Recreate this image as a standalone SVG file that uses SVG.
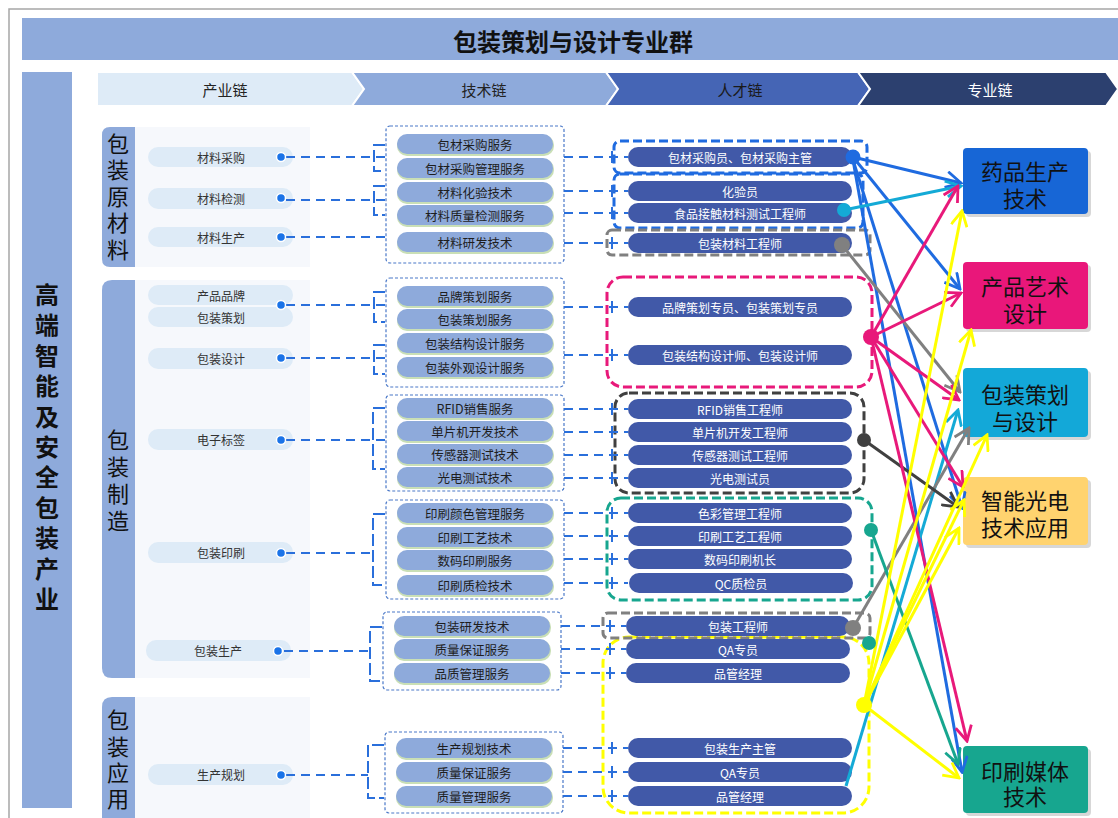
<svg xmlns="http://www.w3.org/2000/svg" width="1118" height="818" viewBox="0 0 1118 818">
<style>
text{font-family:"Noto Sans CJK SC","Liberation Sans",sans-serif;text-anchor:middle;dominant-baseline:central}
.ind{fill:#deebf7}
.indt{font-size:12px;fill:#333}
.dot{fill:#1a73e8;stroke:#fff;stroke-width:1.5}
.techs{fill:#c9dfb6}
.tech{fill:#8eaadb}
.techt{font-size:12.5px;fill:#1e1e1e}
.tal{fill:#4159a8}
.talt{font-size:12px;fill:#fff}
.dl{stroke:#2a6fdb;stroke-width:2;stroke-dasharray:9 6;fill:none}
.br{stroke:#2a6fdb;stroke-width:2;stroke-dasharray:12 4;fill:none}
.tb{fill:none;stroke:#4a78c8;stroke-width:1.2;stroke-dasharray:3 2}
.tbox{fill:none;stroke-width:3;stroke-dasharray:9 4}
.arr{fill:none;stroke-width:3}
.lbl{fill:#8eaadb}
.lblt{font-size:22px;fill:#111}
.pan{fill:#f6f8fc}
.tgt{font-size:22px;fill:#111}
.shd{fill:#a6a6a6;opacity:.45}
</style>
<defs>
<marker id="mBlue" viewBox="0 0 18 18" refX="16" refY="9" markerWidth="18" markerHeight="18" orient="auto" markerUnits="userSpaceOnUse"><path d="M1,1 L16,9 L1,17" fill="none" stroke="#1f6be0" stroke-width="2.8"/></marker>
<marker id="mPink" viewBox="0 0 18 18" refX="16" refY="9" markerWidth="18" markerHeight="18" orient="auto" markerUnits="userSpaceOnUse"><path d="M1,1 L16,9 L1,17" fill="none" stroke="#e8197a" stroke-width="2.8"/></marker>
<marker id="mYel" viewBox="0 0 18 18" refX="16" refY="9" markerWidth="18" markerHeight="18" orient="auto" markerUnits="userSpaceOnUse"><path d="M1,1 L16,9 L1,17" fill="none" stroke="#ffff00" stroke-width="2.8"/></marker>
<marker id="mGray" viewBox="0 0 18 18" refX="16" refY="9" markerWidth="18" markerHeight="18" orient="auto" markerUnits="userSpaceOnUse"><path d="M1,1 L16,9 L1,17" fill="none" stroke="#808080" stroke-width="2.8"/></marker>
<marker id="mDark" viewBox="0 0 18 18" refX="16" refY="9" markerWidth="18" markerHeight="18" orient="auto" markerUnits="userSpaceOnUse"><path d="M1,1 L16,9 L1,17" fill="none" stroke="#404040" stroke-width="2.8"/></marker>
<marker id="mCyan" viewBox="0 0 18 18" refX="16" refY="9" markerWidth="18" markerHeight="18" orient="auto" markerUnits="userSpaceOnUse"><path d="M1,1 L16,9 L1,17" fill="none" stroke="#14aad6" stroke-width="2.8"/></marker>
<marker id="mTeal" viewBox="0 0 18 18" refX="16" refY="9" markerWidth="18" markerHeight="18" orient="auto" markerUnits="userSpaceOnUse"><path d="M1,1 L16,9 L1,17" fill="none" stroke="#17a68f" stroke-width="2.8"/></marker>
</defs>
<rect width="1118" height="818" fill="#fff"/>
<path d="M9,818 V9 H1118" fill="none" stroke="#a6a6a6" stroke-width="1.5"/>

<g id="title">
<rect x="22" y="18" width="1096" height="42" fill="#8eaadb"/>
<text x="573" y="40" style="font-size:24px;font-weight:bold;fill:#111">包装策划与设计专业群</text>
</g>

<g id="industry-bar">
<rect x="22" y="72" width="50" height="736" fill="#8eaadb"/>
<text style="font-size:24px;font-weight:bold;fill:#111"><tspan x="47" y="293">高</tspan><tspan x="47" y="323">端</tspan><tspan x="47" y="354">智</tspan><tspan x="47" y="384">能</tspan><tspan x="47" y="415">及</tspan><tspan x="47" y="445">安</tspan><tspan x="47" y="475">全</tspan><tspan x="47" y="506">包</tspan><tspan x="47" y="536">装</tspan><tspan x="47" y="567">产</tspan><tspan x="47" y="597">业</tspan></text>
</g>

<g id="header">
<path d="M97,72 H352 L364,89 L352,106 H97 Z" fill="#deebf7" stroke="#fff" stroke-width="2"/>
<path d="M352,72 H606 L618,89 L606,106 H352 L364,89 Z" fill="#8eaadb" stroke="#fff" stroke-width="2"/>
<path d="M606,72 H858 L870,89 L858,106 H606 L618,89 Z" fill="#4565b5" stroke="#fff" stroke-width="2"/>
<path d="M858,72 H1106 L1118,89 L1106,106 H858 L870,89 Z" fill="#2c406f" stroke="#fff" stroke-width="2"/>
<text x="225" y="89" style="font-size:15px;fill:#222">产业链</text>
<text x="484" y="89" style="font-size:15px;fill:#222">技术链</text>
<text x="740" y="89" style="font-size:15px;fill:#1a1a1a">人才链</text>
<text x="990" y="89" style="font-size:15px;fill:#fff">专业链</text>
</g>

<g id="group-raw">
<rect class="pan" x="135" y="127" width="175" height="140"/>
<path class="lbl" d="M110,127 H135 V267 H110 Q102,267 102,259 V135 Q102,127 110,127 Z"/>
<text class="lblt"><tspan x="118" y="142">包</tspan><tspan x="118" y="168">装</tspan><tspan x="118" y="195">原</tspan><tspan x="118" y="221">材</tspan><tspan x="118" y="248">料</tspan></text>
</g>
<g id="group-mfg">
<rect class="pan" x="135" y="280" width="175" height="398"/>
<path class="lbl" d="M112,280 H135 V678 H112 Q102,678 102,668 V290 Q102,280 112,280 Z"/>
<text class="lblt"><tspan x="118" y="438">包</tspan><tspan x="118" y="465">装</tspan><tspan x="118" y="492">制</tspan><tspan x="118" y="519">造</tspan></text>
</g>
<g id="group-app">
<rect class="pan" x="135" y="697" width="175" height="121"/>
<path class="lbl" d="M112,697 H135 V818 H102 V707 Q102,697 112,697 Z"/>
<text class="lblt"><tspan x="118" y="718">包</tspan><tspan x="118" y="745">装</tspan><tspan x="118" y="771">应</tspan><tspan x="118" y="797">用</tspan></text>
</g>

<g id="industry-nodes">
<g id="ind-cgcg"><rect class="ind" x="148" y="147" width="145" height="20" rx="10"/><text class="indt" x="221" y="157">材料采购</text></g>
<g id="ind-cljc"><rect class="ind" x="148" y="188" width="145" height="21" rx="10"/><text class="indt" x="221" y="198">材料检测</text></g>
<g id="ind-clsc"><rect class="ind" x="148" y="227" width="145" height="20" rx="10"/><text class="indt" x="221" y="237">材料生产</text></g>
<g id="ind-cppp"><rect class="ind" x="148" y="285" width="145" height="20" rx="10"/><text class="indt" x="221" y="295">产品品牌</text></g>
<g id="ind-bzch"><rect class="ind" x="148" y="307" width="145" height="20" rx="10"/><text class="indt" x="221" y="317">包装策划</text></g>
<g id="ind-bzsj"><rect class="ind" x="148" y="348" width="145" height="21" rx="10"/><text class="indt" x="221" y="358">包装设计</text></g>
<g id="ind-dzbq"><rect class="ind" x="148" y="429" width="145" height="21" rx="10"/><text class="indt" x="221" y="439">电子标签</text></g>
<g id="ind-bzys"><rect class="ind" x="148" y="542" width="145" height="21" rx="10"/><text class="indt" x="221" y="552">包装印刷</text></g>
<g id="ind-bzsc"><rect class="ind" x="146" y="640" width="145" height="21" rx="10"/><text class="indt" x="218" y="650">包装生产</text></g>
<g id="ind-scgh"><rect class="ind" x="148" y="764" width="145" height="21" rx="10"/><text class="indt" x="221" y="774">生产规划</text></g>
</g>

<g id="tech-nodes">
<g id="tech-g1">
<rect class="tb" x="386" y="126" width="178" height="137" rx="4"/>
<rect class="techs" x="397" y="135" width="157" height="21" rx="10"/><rect class="tech" x="397" y="134" width="156" height="20" rx="10"/><text class="techt" x="475" y="144">包材采购服务</text>
<rect class="techs" x="397" y="159" width="157" height="21" rx="10"/><rect class="tech" x="397" y="158" width="156" height="20" rx="10"/><text class="techt" x="475" y="168">包材采购管理服务</text>
<rect class="techs" x="397" y="183" width="157" height="21" rx="10"/><rect class="tech" x="397" y="182" width="156" height="20" rx="10"/><text class="techt" x="475" y="192">材料化验技术</text>
<rect class="techs" x="397" y="206" width="157" height="21" rx="10"/><rect class="tech" x="397" y="205" width="156" height="20" rx="10"/><text class="techt" x="475" y="215">材料质量检测服务</text>
<rect class="techs" x="397" y="233" width="157" height="21" rx="10"/><rect class="tech" x="397" y="232" width="156" height="20" rx="10"/><text class="techt" x="475" y="242">材料研发技术</text>
</g>
<g id="tech-g2">
<rect class="tb" x="386" y="278" width="178" height="109" rx="4"/>
<rect class="techs" x="397" y="287" width="157" height="21" rx="10"/><rect class="tech" x="397" y="286" width="156" height="20" rx="10"/><text class="techt" x="475" y="296">品牌策划服务</text>
<rect class="techs" x="397" y="310" width="157" height="21" rx="10"/><rect class="tech" x="397" y="309" width="156" height="20" rx="10"/><text class="techt" x="475" y="319">包装策划服务</text>
<rect class="techs" x="397" y="334" width="157" height="21" rx="10"/><rect class="tech" x="397" y="333" width="156" height="20" rx="10"/><text class="techt" x="475" y="343">包装结构设计服务</text>
<rect class="techs" x="397" y="358" width="157" height="21" rx="10"/><rect class="tech" x="397" y="357" width="156" height="20" rx="10"/><text class="techt" x="475" y="367">包装外观设计服务</text>
</g>
<g id="tech-g3">
<rect class="tb" x="386" y="395" width="178" height="96" rx="4"/>
<rect class="techs" x="397" y="399" width="157" height="21" rx="10"/><rect class="tech" x="397" y="398" width="156" height="20" rx="10"/><text class="techt" x="475" y="408">RFID销售服务</text>
<rect class="techs" x="397" y="422" width="157" height="21" rx="10"/><rect class="tech" x="397" y="421" width="156" height="20" rx="10"/><text class="techt" x="475" y="431">单片机开发技术</text>
<rect class="techs" x="397" y="445" width="157" height="21" rx="10"/><rect class="tech" x="397" y="444" width="156" height="20" rx="10"/><text class="techt" x="475" y="454">传感器测试技术</text>
<rect class="techs" x="397" y="468" width="157" height="21" rx="10"/><rect class="tech" x="397" y="467" width="156" height="20" rx="10"/><text class="techt" x="475" y="477">光电测试技术</text>
</g>
<g id="tech-g4">
<rect class="tb" x="386" y="500" width="178" height="99" rx="4"/>
<rect class="techs" x="397" y="504" width="157" height="21" rx="10"/><rect class="tech" x="397" y="503" width="156" height="20" rx="10"/><text class="techt" x="475" y="513">印刷颜色管理服务</text>
<rect class="techs" x="397" y="528" width="157" height="21" rx="10"/><rect class="tech" x="397" y="527" width="156" height="20" rx="10"/><text class="techt" x="475" y="537">印刷工艺技术</text>
<rect class="techs" x="397" y="551" width="157" height="21" rx="10"/><rect class="tech" x="397" y="550" width="156" height="20" rx="10"/><text class="techt" x="475" y="560">数码印刷服务</text>
<rect class="techs" x="397" y="576" width="157" height="21" rx="10"/><rect class="tech" x="397" y="575" width="156" height="20" rx="10"/><text class="techt" x="475" y="585">印刷质检技术</text>
</g>
<g id="tech-g5">
<rect class="tb" x="383" y="612" width="178" height="78" rx="4"/>
<rect class="techs" x="394" y="617" width="157" height="21" rx="10"/><rect class="tech" x="394" y="616" width="156" height="20" rx="10"/><text class="techt" x="472" y="626">包装研发技术</text>
<rect class="techs" x="394" y="640" width="157" height="21" rx="10"/><rect class="tech" x="394" y="639" width="156" height="20" rx="10"/><text class="techt" x="472" y="649">质量保证服务</text>
<rect class="techs" x="394" y="664" width="157" height="21" rx="10"/><rect class="tech" x="394" y="663" width="156" height="20" rx="10"/><text class="techt" x="472" y="673">品质管理服务</text>
</g>
<g id="tech-g6">
<rect class="tb" x="385" y="732" width="178" height="81" rx="4"/>
<rect class="techs" x="396" y="739" width="157" height="21" rx="10"/><rect class="tech" x="396" y="738" width="156" height="20" rx="10"/><text class="techt" x="474" y="748">生产规划技术</text>
<rect class="techs" x="396" y="763" width="157" height="21" rx="10"/><rect class="tech" x="396" y="762" width="156" height="20" rx="10"/><text class="techt" x="474" y="772">质量保证服务</text>
<rect class="techs" x="396" y="787" width="157" height="21" rx="10"/><rect class="tech" x="396" y="786" width="156" height="20" rx="10"/><text class="techt" x="474" y="796">质量管理服务</text>
</g>
</g>

<g id="talent-boxes">
<rect class="tbox" x="614" y="141" width="253" height="32" rx="6" stroke="#1f6be0"/>
<rect class="tbox" x="614" y="174" width="249" height="54" rx="6" stroke="#1f6be0"/>
<rect class="tbox" x="607" y="230" width="263" height="25" rx="5" stroke="#808080"/>
<rect class="tbox" x="607" y="277" width="265" height="110" rx="16" stroke="#e8197a"/>
<rect class="tbox" x="615" y="393" width="249" height="100" rx="14" stroke="#404040"/>
<rect class="tbox" x="607" y="498" width="265" height="102" rx="14" stroke="#17a68f"/>
<rect class="tbox" x="603" y="637" width="266" height="176" rx="26" stroke="#ffff00"/>
<rect class="tbox" x="603" y="613" width="267" height="25" rx="5" stroke="#808080"/>
</g>

<g id="talent-nodes">
<g id="tal-1"><rect class="tal" x="628" y="147" width="224" height="20" rx="10"/><text class="talt" x="740" y="157">包材采购员、包材采购主管</text></g>
<g id="tal-2"><rect class="tal" x="628" y="181" width="224" height="20" rx="10"/><text class="talt" x="740" y="191">化验员</text></g>
<g id="tal-3"><rect class="tal" x="628" y="203" width="224" height="20" rx="10"/><text class="talt" x="740" y="213">食品接触材料测试工程师</text></g>
<g id="tal-4"><rect class="tal" x="628" y="233" width="224" height="20" rx="10"/><text class="talt" x="740" y="243">包装材料工程师</text></g>
<g id="tal-5"><rect class="tal" x="628" y="297" width="224" height="20" rx="10"/><text class="talt" x="740" y="307">品牌策划专员、包装策划专员</text></g>
<g id="tal-6"><rect class="tal" x="628" y="345" width="224" height="20" rx="10"/><text class="talt" x="740" y="355">包装结构设计师、包装设计师</text></g>
<g id="tal-7"><rect class="tal" x="628" y="399" width="224" height="20" rx="10"/><text class="talt" x="740" y="409">RFID销售工程师</text></g>
<g id="tal-8"><rect class="tal" x="628" y="422" width="224" height="20" rx="10"/><text class="talt" x="740" y="432">单片机开发工程师</text></g>
<g id="tal-9"><rect class="tal" x="628" y="445" width="224" height="20" rx="10"/><text class="talt" x="740" y="455">传感器测试工程师</text></g>
<g id="tal-10"><rect class="tal" x="628" y="468" width="224" height="20" rx="10"/><text class="talt" x="740" y="478">光电测试员</text></g>
<g id="tal-11"><rect class="tal" x="628" y="503" width="224" height="20" rx="10"/><text class="talt" x="740" y="513">色彩管理工程师</text></g>
<g id="tal-12"><rect class="tal" x="628" y="526" width="224" height="20" rx="10"/><text class="talt" x="740" y="536">印刷工艺工程师</text></g>
<g id="tal-13"><rect class="tal" x="628" y="549" width="224" height="20" rx="10"/><text class="talt" x="740" y="559">数码印刷机长</text></g>
<g id="tal-14"><rect class="tal" x="629" y="573" width="224" height="20" rx="10"/><text class="talt" x="741" y="583">QC质检员</text></g>
<g id="tal-15"><rect class="tal" x="626" y="616" width="224" height="20" rx="10"/><text class="talt" x="738" y="626">包装工程师</text></g>
<g id="tal-16"><rect class="tal" x="626" y="639" width="224" height="20" rx="10"/><text class="talt" x="738" y="649">QA专员</text></g>
<g id="tal-17"><rect class="tal" x="626" y="663" width="224" height="20" rx="10"/><text class="talt" x="738" y="673">品管经理</text></g>
<g id="tal-18"><rect class="tal" x="628" y="738" width="224" height="20" rx="10"/><text class="talt" x="740" y="748">包装生产主管</text></g>
<g id="tal-19"><rect class="tal" x="628" y="762" width="224" height="20" rx="10"/><text class="talt" x="740" y="772">QA专员</text></g>
<g id="tal-20"><rect class="tal" x="628" y="786" width="224" height="20" rx="10"/><text class="talt" x="740" y="796">品管经理</text></g>
</g>

<g id="major-nodes">
<g id="maj-yp"><rect class="shd" x="966" y="151" width="125" height="66" rx="4"/><rect x="963" y="148" width="125" height="66" rx="4" fill="#1766d6"/><text class="tgt"><tspan x="1025" y="170">药品生产</tspan><tspan x="1025" y="197">技术</tspan></text></g>
<g id="maj-cp"><rect class="shd" x="966" y="265" width="125" height="67" rx="4"/><rect x="963" y="262" width="125" height="67" rx="4" fill="#e9177a"/><text class="tgt"><tspan x="1025" y="285">产品艺术</tspan><tspan x="1025" y="312">设计</tspan></text></g>
<g id="maj-bz"><rect class="shd" x="966" y="371" width="125" height="69" rx="4"/><rect x="963" y="368" width="125" height="69" rx="4" fill="#13a8d8"/><text class="tgt"><tspan x="1025" y="393">包装策划</tspan><tspan x="1025" y="420">与设计</tspan></text></g>
<g id="maj-zn"><rect class="shd" x="966" y="480" width="125" height="68" rx="4"/><rect x="963" y="477" width="125" height="68" rx="4" fill="#ffd36f"/><text class="tgt"><tspan x="1025" y="499">智能光电</tspan><tspan x="1025" y="526">技术应用</tspan></text></g>
<g id="maj-ys"><rect class="shd" x="966" y="749" width="125" height="67" rx="4"/><rect x="963" y="746" width="125" height="67" rx="4" fill="#17a68f"/><text class="tgt"><tspan x="1025" y="770">印刷媒体</tspan><tspan x="1025" y="795">技术</tspan></text></g>
</g>

<g id="connectors">
<g id="left-links">
<path class="dl" d="M286,157 H385"/><path class="br" d="M385,145 H374 V171 H385"/>
<path class="dl" d="M286,200 H385"/><path class="br" d="M385,186 H374 V215 H385"/>
<path class="dl" d="M286,237 H386"/>
<path class="dl" d="M286,305 H385"/><path class="br" d="M385,292 H374 V322 H385"/>
<path class="dl" d="M286,358 H385"/><path class="br" d="M385,345 H374 V374 H385"/>
<path class="dl" d="M286,440 H385"/><path class="br" d="M385,408 H373 V469 H385"/>
<path class="dl" d="M286,553 H373"/><path class="br" d="M385,514 H373 V585 H385"/>
<path class="dl" d="M284,651 H370"/><path class="br" d="M382,627 H370 V681 H382"/>
<path class="dl" d="M286,775 H368"/><path class="br" d="M384,745 H368 V798 H384"/>
</g>
<g id="right-links">
<path class="dl" d="M564,157 H628 M564,191 H628 M564,213 H628 M564,243 H628 M564,307 H628 M564,355 H628 M564,409 H628 M564,432 H628 M564,455 H628 M564,478 H628 M564,513 H628 M564,536 H628 M564,559 H628 M564,583 H628 M561,626 H626 M561,649 H626 M561,673 H626 M563,748 H628 M563,772 H628 M563,796 H628"/>
<path stroke="#2a6fdb" stroke-width="2" d="M612,151 V163 M612,185 V197 M612,207 V219 M612,237 V249 M612,301 V313 M612,349 V361 M612,403 V415 M612,426 V438 M612,449 V461 M612,472 V484 M612,507 V519 M612,530 V542 M612,553 V565 M612,577 V589 M610,620 V632 M610,643 V655 M610,667 V679 M612,742 V754 M612,766 V778 M612,790 V802"/>
</g>
<g id="arrows">
<path class="arr" stroke="#1f6be0" marker-end="url(#mBlue)" d="M853,157 L961,183"/>
<path class="arr" stroke="#1f6be0" marker-end="url(#mBlue)" d="M853,157 L960,289"/>
<path class="arr" stroke="#1f6be0" marker-end="url(#mBlue)" d="M853,160 L962,508"/>
<path class="arr" stroke="#1f6be0" marker-end="url(#mBlue)" d="M853,160 L962,772"/>
<path class="arr" stroke="#14aad6" marker-end="url(#mCyan)" d="M844,210 L961,186"/>
<path class="arr" stroke="#14aad6" marker-end="url(#mCyan)" d="M846,786 L958,410"/>
<path class="arr" stroke="#808080" marker-end="url(#mGray)" d="M842,245 L960,392"/>
<path class="arr" stroke="#808080" marker-end="url(#mGray)" d="M853,628 L969,428"/>
<path class="arr" stroke="#404040" marker-end="url(#mDark)" d="M864,440 L958,507"/>
<path class="arr" stroke="#17a68f" marker-end="url(#mTeal)" d="M871,530 L958,764"/>
<path class="arr" stroke="#e8197a" marker-end="url(#mPink)" d="M871,337 L958,186"/>
<path class="arr" stroke="#e8197a" marker-end="url(#mPink)" d="M871,337 L961,293"/>
<path class="arr" stroke="#e8197a" marker-end="url(#mPink)" d="M871,337 L959,400"/>
<path class="arr" stroke="#e8197a" marker-end="url(#mPink)" d="M871,337 L963,487"/>
<path class="arr" stroke="#e8197a" marker-end="url(#mPink)" d="M871,337 L967,741"/>
<path class="arr" stroke="#ffff00" marker-end="url(#mYel)" d="M864,705 L962,211"/>
<path class="arr" stroke="#ffff00" marker-end="url(#mYel)" d="M864,705 L971,330"/>
<path class="arr" stroke="#ffff00" marker-end="url(#mYel)" d="M864,705 L987,435"/>
<path class="arr" stroke="#ffff00" marker-end="url(#mYel)" d="M864,705 L964,500"/>
<path class="arr" stroke="#ffff00" marker-end="url(#mYel)" d="M864,705 L959,528"/>
<path class="arr" stroke="#ffff00" marker-end="url(#mYel)" d="M864,705 L959,778"/>
</g>
<g id="dots">
<circle class="dot" cx="281" cy="157" r="4.5"/>
<circle class="dot" cx="281" cy="198" r="4.5"/>
<circle class="dot" cx="281" cy="237" r="4.5"/>
<circle class="dot" cx="281" cy="305" r="4.5"/>
<circle class="dot" cx="281" cy="358" r="4.5"/>
<circle class="dot" cx="281" cy="440" r="4.5"/>
<circle class="dot" cx="281" cy="553" r="4.5"/>
<circle class="dot" cx="278" cy="651" r="4.5"/>
<circle class="dot" cx="281" cy="775" r="4.5"/>
<circle cx="853" cy="157" r="7.5" fill="#1f6be0"/>
<circle cx="844" cy="210" r="7" fill="#14aad6"/>
<circle cx="842" cy="245" r="8" fill="#808080"/>
<circle cx="871" cy="337" r="8" fill="#e8197a"/>
<circle cx="864" cy="440" r="7" fill="#404040"/>
<circle cx="871" cy="530" r="7" fill="#17a68f"/>
<circle cx="853" cy="628" r="8" fill="#808080"/>
<circle cx="869" cy="643" r="7" fill="#17a68f"/>
<circle cx="864" cy="705" r="8" fill="#ffff00"/>
</g>
</g>
</svg>
